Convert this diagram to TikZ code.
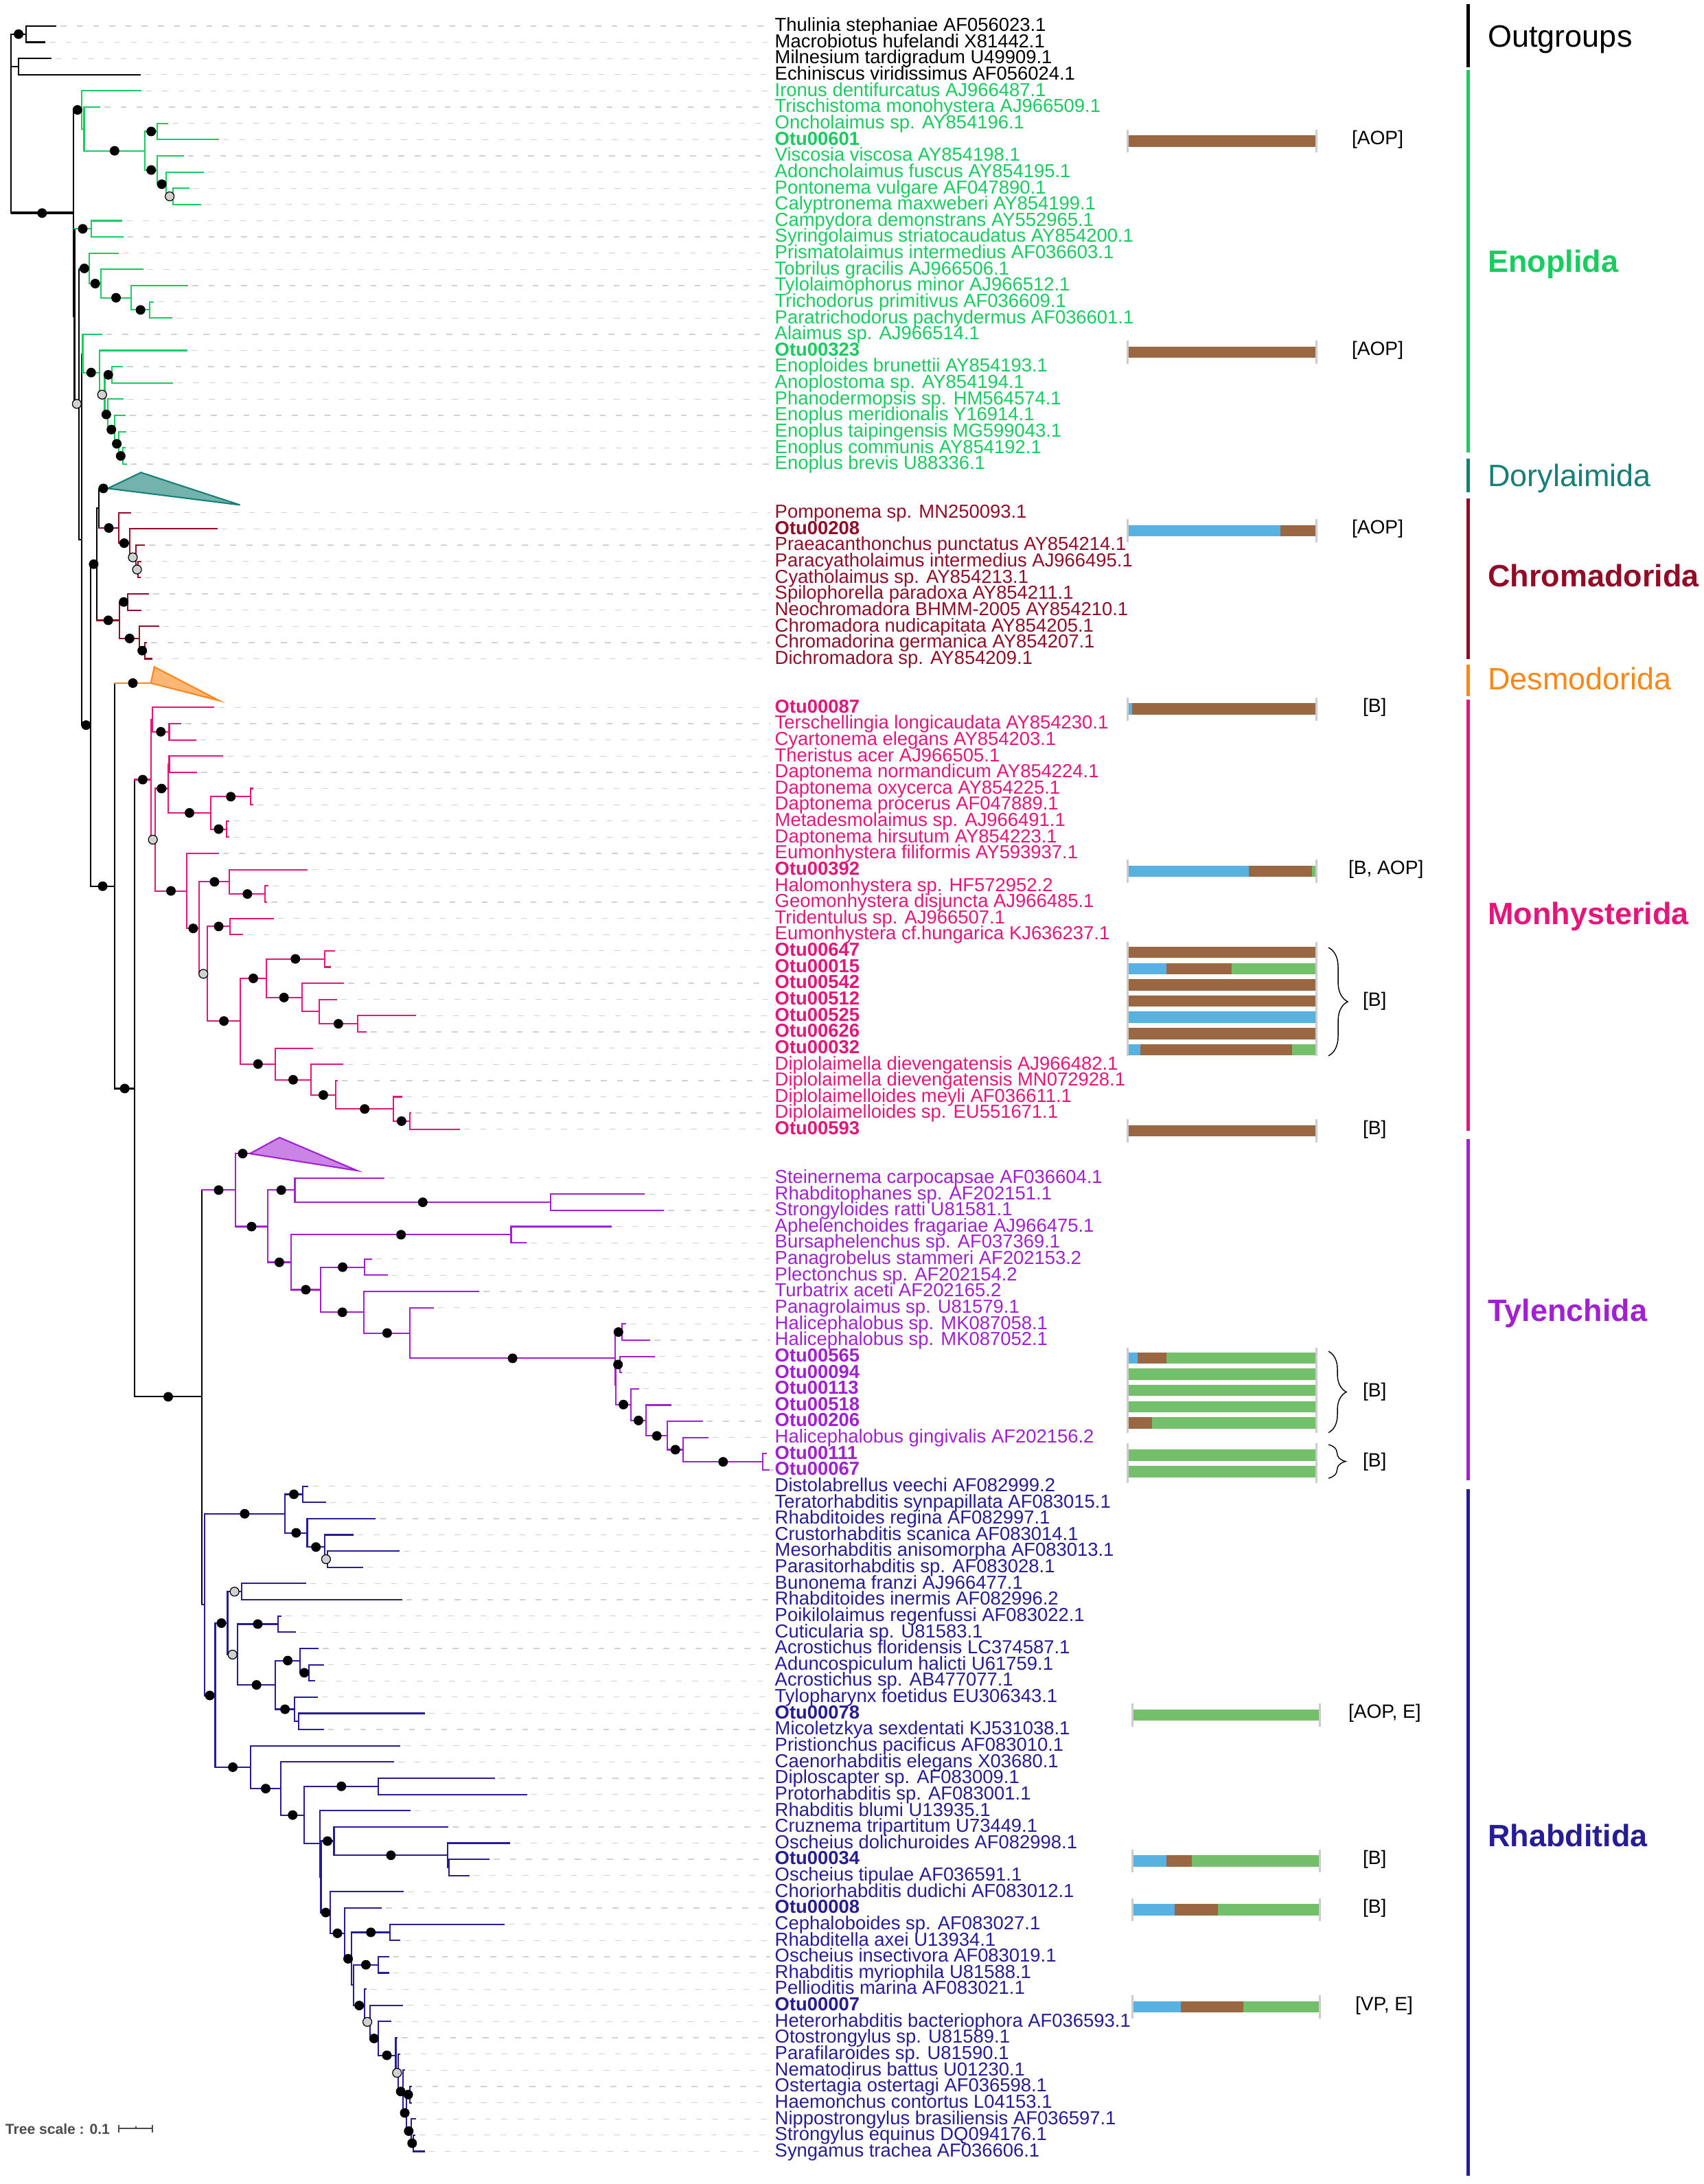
\documentclass[tikz,border=0pt]{standalone}
\usepackage{fontspec}
\setmainfont{Liberation Sans}
\usetikzlibrary{decorations.pathreplacing}

\definecolor{eno}{RGB}{24,204,96}
\definecolor{dory}{RGB}{22,128,118}
\definecolor{chro}{RGB}{145,12,38}
\definecolor{desm}{RGB}{250,135,25}
\definecolor{monh}{RGB}{228,22,122}
\definecolor{tyle}{RGB}{160,32,210}
\definecolor{rhab}{RGB}{38,28,150}
\definecolor{pbrown}{RGB}{155,102,66}
\definecolor{pblue}{RGB}{87,178,225}
\definecolor{pgreen}{RGB}{116,192,106}

\tikzset{
	treeline/.style={line width=0.6pt, line cap=rect},
	lead/.style={draw=black!18, line width=0.37pt, dash pattern=on 0.86mm off 1.5mm},
	leaf/.style={anchor=base west, inner sep=0pt, yshift=-0.78mm, font=\fontsize{7.8pt}{8.5pt}\selectfont},
	bsdot/.style={circle, fill=black, inner sep=0pt, minimum size=1.4mm},
	bsgrey/.style={circle, draw=black, fill=black!18, line width=0.35pt, inner sep=0pt, minimum size=1.3mm},
	nodot/.style={inner sep=0pt, minimum size=0pt},
	rangebar/.style={line width=0.5mm},
	ordername/.style={anchor=base west, inner sep=0pt, font=\fontsize{12.8pt}{15pt}\selectfont},
	trait/.style={anchor=west, inner sep=0pt, font=\fontsize{8pt}{9pt}\selectfont},
	barcap/.style={draw=black!20, line width=0.3mm},
	bracegroup/.style={decorate, line width=0.4pt},
}

%stem from parent, vertical of the node, support symbol half way on the stem
\newcommand{\cladelines}[2]{\foreach \pa/\nx/\ny/\ya/\yb/\spt in #1 {\draw[treeline,#2] (\pa,\ny) -- (\nx,\ny) (\nx,\ya) -- (\nx,\yb);}}
\newcommand{\cladedots}[1]{\foreach \pa/\nx/\ny/\ya/\yb/\spt in #1 {\node[\spt] at ({(\pa+\nx)/2},\ny) {};}}
%tip branch, dashed leader, label
\newcommand{\leafset}[2]{\foreach \lr/\pa/\tx/\lbl in #1 {\draw[treeline,#2] (\pa,\lr) -- (\tx,\lr); \draw[lead] (\tx+7,\lr) -- (1122,\lr); \node[leaf,text=#2] at (1128,\lr) {\lbl};}}
%row, left, right, end of blue, end of brown (green to the right end)
\newcommand{\otubar}[5]{\fill[pblue] (#2,#1-0.25) rectangle (#4,#1+0.45); \fill[pbrown] (#4,#1-0.25) rectangle (#5,#1+0.45); \fill[pgreen] (#5,#1-0.25) rectangle (#3,#1+0.45);}
\newcommand{\otucaps}[4]{\draw[barcap] (#3-2,#1) -- (#3-2,#2) (#4+2,#1) -- (#4+2,#2);}

%TREE DATA: parent x / node x / node row / first child row / last child row / support
\def\outnodes{15.9/38.2/1.5/1/2/bsdot, 15.9/26.7/3.5/3/4/nodot}
\def\backnodes{15.9/106.7/12.53/6.17/18.9/bsdot, 106.7/108.5/18.9/13.5/24.29/nodot, 108.5/115.3/24.29/15.94/32.64/bsgrey, 115.3/118.8/32.64/21.18/44.09/nodot, 118.8/131.9/44.09/34.17/54.02/bsdot, 131.9/141/34.17/30.72/37.63/bsdot, 141/144/30.72/29.5/31.94/nodot, 131.9/167.2/54.02/41.5/66.49/bsdot, 167.2/196/66.49/47.45/85.49/bsdot, 196/294/85.49/72.75/98.29/bsdot}
\def\enonodes{106.7/118.9/6.17/5/7.34/bsdot, 118.9/122.5/7.34/6/8.69/nodot, 122.5/211.2/8.69/7.5/9.875/bsdot, 211.2/229.2/7.5/7/8/bsdot, 211.2/229.2/9.875/9/10.75/bsdot, 229.2/242.1/10.75/10/11.5/bsdot, 242.1/252.2/11.5/11/12/bsgrey, 108.5/132.6/13.5/13/14/bsdot, 115.3/130.4/15.94/15/16.875/bsdot, 130.4/147/16.875/16/17.75/bsdot, 147/191/17.75/17/18.5/bsdot, 191/218.4/18.5/18/19/bsdot, 118.8/120.5/21.18/20/22.36/nodot, 120.5/145/22.36/21/23.72/bsdot, 145/152.5/23.72/22.5/24.94/bsgrey, 152.5/163/22.5/22/23/bsdot, 152.5/157.2/24.94/24/25.875/bsdot, 157.2/167.2/25.875/25/26.75/bsdot, 167.2/173/26.75/26/27.5/bsdot, 173/178.7/27.5/27/28/bsdot}
\def\dorynodes{144/157.1/29.5/29.5/29.5/bsdot}
\def\chronodes{144/173/31.94/31/32.875/bsdot, 173/188.8/32.875/32/33.75/bsdot, 188.8/198.2/33.75/33/34.5/bsgrey, 198.2/201/34.5/34/35/bsgrey, 141/174.4/37.63/36.5/38.75/bsdot, 174.4/186/36.5/36/37/bsdot, 174.4/203.2/38.75/38/39.5/bsdot, 203.2/211.2/39.5/39/40/bsdot}
\def\desmnodes{167.2/219.8/41.5/41.5/41.5/bsdot}
\def\monhnodes{196/219.8/47.45/43.75/51.15/bsdot, 219.8/222/43.75/43/44.5/nodot, 222/246.5/44.5/44/45/bsdot, 219.8/225.6/51.15/48/54.31/bsgrey, 225.6/245/48/46.5/49.5/bsdot, 245/246.5/46.5/46/47/nodot, 245/307/49.5/48.5/50.5/bsdot, 307/365.4/48.5/48/49/bsdot, 307/330/50.5/50/51/bsdot, 225.6/272.4/54.31/52/56.62/bsdot, 272.4/290.4/56.62/53.75/59.42/bsdot, 290.4/334.4/53.75/53/54.5/bsdot, 334.4/386.3/54.5/54/55/bsdot, 290.4/302/59.42/56.5/62.33/bsgrey, 302/335.1/56.5/56/57/bsdot, 302/350.2/62.33/59.7/64.98/bsdot, 350.2/387.7/59.7/58.5/60.88/bsdot, 387.7/472.8/58.5/58/59/bsdot, 387.7/439.6/60.88/60/61.75/bsdot, 439.6/464.8/61.75/61/62.5/nodot, 464.8/521/62.5/62/63/bsdot, 350.2/401.4/64.98/64/65.95/bsdot, 401.4/452.6/65.95/65/66.89/bsdot, 452.6/489.3/66.89/66/67.75/bsdot, 489.3/573/67.75/67/68.5/bsdot, 573/596.7/68.5/68/69/bsdot}
\def\tylenodes{294/343/72.75/70.5/75/bsdot, 343/364/70.5/70.5/70.5/bsdot, 343/389.9/75/72.75/77.2/bsdot, 389.9/429.5/72.75/72/73.5/bsdot, 429.5/802.1/73.5/73/74/bsdot, 389.9/423.8/77.2/75.5/78.89/bsdot, 423.8/744.5/75.5/75/76/bsdot, 423.8/467/78.89/77.5/80.28/bsdot, 467/531.1/77.5/77/78/bsdot, 467/530.4/80.28/79/81.56/bsdot, 530.4/597.4/81.56/80/83.12/bsdot, 597.4/895.8/83.12/81.5/84.74/bsdot, 895.8/905.8/81.5/81/82/bsdot, 895.8/897.3/84.74/83.5/85.97/nodot, 897.3/903/83.5/83/84/bsdot, 897.3/918.8/85.97/85/86.95/bsdot, 918.8/941.2/86.95/86/87.9/bsdot, 941.2/972.2/87.9/87/88.75/bsdot, 972.2/995.2/88.75/88/89.5/bsdot, 995.2/1111.3/89.5/89/90/bsdot}
\def\rhabnodes{294/297.6/98.29/92.7/103.9/nodot, 297.6/415.1/92.7/91.5/93.875/bsdot, 415.1/441/91.5/91/92/bsdot, 415.1/447.5/93.875/93/94.75/bsdot, 447.5/472.8/94.75/94/95.5/bsdot, 472.8/477/95.5/95/96/bsgrey, 297.6/313.5/103.9/99.44/108.32/bsdot, 313.5/331.5/99.44/97.5/101.38/bsdot, 331.5/351.7/97.5/97/98/bsgrey, 331.5/345.9/101.38/99.5/103.25/bsgrey, 345.9/405/99.5/99/100/bsdot, 345.9/401.4/103.25/101.75/104.75/bsdot, 401.4/436.7/101.75/101/102.5/bsdot, 436.7/449.7/102.5/102/103/bsdot, 401.4/428.8/104.75/104/105.5/bsdot, 428.8/435.3/105.5/105/106/nodot, 313.5/364.7/108.32/107/109.64/bsdot, 364.7/409.3/109.64/108/111.27/bsdot, 409.3/443.2/111.27/109.5/113.04/bsdot, 443.2/551.3/109.5/109/110/bsdot, 443.2/466.3/113.04/111/115.08/nodot, 466.3/467.5/115.08/112.875/117.28/nodot, 467.5/486.5/112.875/112/113.75/bsdot, 486.5/652.2/113.75/113/114.5/bsdot, 652.2/653.6/114.5/114/115/nodot, 467.5/481.4/117.28/116/118.56/bsdot, 481.4/501.6/118.56/117/120.13/bsdot, 501.6/512.4/120.13/118.5/121.75/bsdot, 512.4/567.9/118.5/118/119/bsdot, 512.4/515.3/121.75/120.5/123.01/nodot, 515.3/550.6/120.5/120/121/bsdot, 515.3/531.1/123.01/122/124.02/bsdot, 531.1/539/124.02/123/125.04/bsgrey, 539/550.6/125.04/124/126.08/bsdot, 550.6/576.5/126.08/125/127.16/bsdot, 576.5/580.1/127.16/126/128.31/bsgrey, 580.1/587.3/128.31/127/129.63/bsdot, 587.3/591.8/129.63/128.5/130.75/bsdot, 591.8/597.4/128.5/128/129/bsdot, 591.8/598.8/130.75/130/131.5/bsdot, 598.8/601.8/131.5/131/132/bsdot}

%LEAVES: row / parent x / tip x / label
\def\outleaves{1/38.2/81.4/{Thulinia stephaniae AF056023.1}, 2/38.2/64.9/{Macrobiotus hufelandi X81442.1}, 3/26.7/74.2/{Milnesium tardigradum U49909.1}, 4/26.7/204/{Echiniscus viridissimus AF056024.1}}
\def\enoleaves{5/118.9/205.4/{Ironus dentifurcatus AJ966487.1}, 6/122.5/144.9/{Trischistoma monohystera AJ966509.1}, 7/229.2/243.6/{Oncholaimus sp. AY854196.1}, 8/229.2/317.8/{\textbf{Otu00601}}, 9/229.2/266.6/{Viscosia viscosa AY854198.1}, 10/242.1/296.2/{Adoncholaimus fuscus AY854195.1}, 11/252.2/274.6/{Pontonema vulgare AF047890.1}, 12/252.2/291.9/{Calyptronema maxweberi AY854199.1}, 13/132.6/177.3/{Campydora demonstrans AY552965.1}, 14/132.6/178.7/{Syringolaimus striatocaudatus AY854200.1}, 15/130.4/172.2/{Prismatolaimus intermedius AF036603.1}, 16/147/207.5/{Tobrilus gracilis AJ966506.1}, 17/191/273.1/{Tylolaimophorus minor AJ966512.1}, 18/218.4/223.4/{Trichodorus primitivus AF036609.1}, 19/218.4/250.1/{Paratrichodorus pachydermus AF036601.1}, 20/120.5/147.7/{Alaimus sp. AJ966514.1}, 21/145/272.4/{\textbf{Otu00323}}, 22/163/178/{Enoploides brunettii AY854193.1}, 23/163/250.8/{Anoplostoma sp. AY854194.1}, 24/157.2/179.4/{Phanodermopsis sp. HM564574.1}, 25/167.2/182.3/{Enoplus meridionalis Y16914.1}, 26/173/183/{Enoplus taipingensis MG599043.1}, 27/178.7/181.6/{Enoplus communis AY854192.1}, 28/178.7/183.8/{Enoplus brevis U88336.1}}
\def\chroleaves{31/173/190.3/{Pomponema sp. MN250093.1}, 32/188.8/315.7/{\textbf{Otu00208}}, 33/198.2/210.4/{Praeacanthonchus punctatus AY854214.1}, 34/201/205/{Paracyatholaimus intermedius AJ966495.1}, 35/201/204/{Cyatholaimus sp. AY854213.1}, 36/186/216.2/{Spilophorella paradoxa AY854211.1}, 37/186/204.7/{Neochromadora BHMM-2005 AY854210.1}, 38/203.2/230.6/{Chromadora nudicapitata AY854205.1}, 39/211.2/213.3/{Chromadorina germanica AY854207.1}, 40/211.2/220.5/{Dichromadora sp. AY854209.1}}
\def\monhleaves{43/222/311.3/{\textbf{Otu00087}}, 44/246.5/263/{Terschellingia longicaudata AY854230.1}, 45/246.5/284.7/{Cyartonema elegans AY854203.1}, 46/246.5/324.3/{Theristus acer AJ966505.1}, 47/246.5/286.1/{Daptonema normandicum AY854224.1}, 48/365.4/367.5/{Daptonema oxycerca AY854225.1}, 49/365.4/368/{Daptonema procerus AF047889.1}, 50/330/333/{Metadesmolaimus sp. AJ966491.1}, 51/330/333/{Daptonema hirsutum AY854223.1}, 52/272.4/317.8/{Eumonhystera filiformis AY593937.1}, 53/334.4/446.8/{\textbf{Otu00392}}, 54/386.3/390/{Halomonhystera sp. HF572952.2}, 55/386.3/388/{Geomonhystera disjuncta AJ966485.1}, 56/335.1/397.8/{Tridentulus sp. AJ966507.1}, 57/335.1/353.1/{Eumonhystera cf.hungarica KJ636237.1}, 58/472.8/487.2/{\textbf{Otu00647}}, 59/472.8/481.4/{\textbf{Otu00015}}, 60/439.6/500.1/{\textbf{Otu00542}}, 61/464.8/490/{\textbf{Otu00512}}, 62/521/605.4/{\textbf{Otu00525}}, 63/521/533.3/{\textbf{Otu00626}}, 64/401.4/454.7/{\textbf{Otu00032}}, 65/452.6/498.7/{Diplolaimella dievengatensis AJ966482.1}, 66/489.3/490.5/{Diplolaimella dievengatensis MN072928.1}, 67/573/584.5/{Diplolaimelloides meyli AF036611.1}, 68/596.7/598.2/{Diplolaimelloides sp. EU551671.1}, 69/596.7/668.8/{\textbf{Otu00593}}}
\def\tyleleaves{72/429.5/559.2/{Steinernema carpocapsae AF036604.1}, 73/802.1/938.3/{Rhabditophanes sp. AF202151.1}, 74/802.1/966.4/{Strongyloides ratti U81581.1}, 75/744.5/890/{Aphelenchoides fragariae AJ966475.1}, 76/744.5/766/{Bursaphelenchus sp. AF037369.1}, 77/531.1/540.5/{Panagrobelus stammeri AF202153.2}, 78/531.1/563.6/{Plectonchus sp. AF202154.2}, 79/530.4/696.9/{Turbatrix aceti AF202165.2}, 80/597.4/630.6/{Panagrolaimus sp. U81579.1}, 81/905.8/911/{Halicephalobus sp. MK087058.1}, 82/905.8/946.2/{Halicephalobus sp. MK087052.1}, 83/903/953.4/{\textbf{Otu00565}}, 84/903/905/{\textbf{Otu00094}}, 85/918.8/929.7/{\textbf{Otu00113}}, 86/941.2/976.5/{\textbf{Otu00518}}, 87/972.2/1022.6/{\textbf{Otu00206}}, 88/995.2/1030.6/{Halicephalobus gingivalis AF202156.2}, 89/1111.3/1115.6/{\textbf{Otu00111}}, 90/1111.3/1120/{\textbf{Otu00067}}}
\def\rhableaves{91/441/448.3/{Distolabrellus veechi AF082999.2}, 92/441/473.5/{Teratorhabditis synpapillata AF083015.1}, 93/447.5/546.3/{Rhabditoides regina AF082997.1}, 94/472.8/513.8/{Crustorhabditis scanica AF083014.1}, 95/477/580.9/{Mesorhabditis anisomorpha AF083013.1}, 96/477/527.5/{Parasitorhabditis sp. AF083028.1}, 97/351.7/444.6/{Bunonema franzi AJ966477.1}, 98/351.7/584.5/{Rhabditoides inermis AF082996.2}, 99/405/409.3/{Poikilolaimus regenfussi AF083022.1}, 100/405/430.2/{Cuticularia sp. U81583.1}, 101/436.7/463.4/{Acrostichus floridensis LC374587.1}, 102/449.7/470.6/{Aduncospiculum halicti U61759.1}, 103/449.7/458.3/{Acrostichus sp. AB477077.1}, 104/428.8/462/{Tylopharynx foetidus EU306343.1}, 105/435.3/617.6/{\textbf{Otu00078}}, 106/435.3/470.6/{Micoletzkya sexdentati KJ531038.1}, 107/364.7/582.3/{Pristionchus pacificus AF083010.1}, 108/409.3/572.9/{Caenorhabditis elegans X03680.1}, 109/551.3/720/{Diploscapter sp. AF083009.1}, 110/551.3/766.8/{Protorhabditis sp. AF083001.1}, 111/466.3/596.7/{Rhabditis blumi U13935.1}, 112/486.5/652.2/{Cruznema tripartitum U73449.1}, 113/652.2/742.3/{Oscheius dolichuroides AF082998.1}, 114/653.6/712/{\textbf{Otu00034}}, 115/653.6/683.2/{Oscheius tipulae AF036591.1}, 116/481.4/587.3/{Choriorhabditis dudichi AF083012.1}, 117/501.6/554.9/{\textbf{Otu00008}}, 118/567.9/733.6/{Cephaloboides sp. AF083027.1}, 119/567.9/582.3/{Rhabditella axei U13934.1}, 120/550.6/565.7/{Oscheius insectivora AF083019.1}, 121/550.6/565.7/{Rhabditis myriophila U81588.1}, 122/531.1/533/{Pellioditis marina AF083021.1}, 123/539/585.9/{\textbf{Otu00007}}, 124/550.6/569.3/{Heterorhabditis bacteriophora AF036593.1}, 125/576.5/578/{Otostrongylus sp. U81589.1}, 126/580.1/582/{Parafilaroides sp. U81590.1}, 127/587.3/589/{Nematodirus battus U01230.1}, 128/597.4/599/{Ostertagia ostertagi AF036598.1}, 129/597.4/599/{Haemonchus contortus L04153.1}, 130/598.8/605.4/{Nippostrongylus brasiliensis AF036597.1}, 131/601.8/604/{Strongylus equinus DQ094176.1}, 132/601.8/617.6/{Syngamus trachea AF036606.1}}

\begin{document}
\begin{tikzpicture}[x=0.1mm,y=-2.363mm]
	\useasboundingbox (0mm,1.427mm) rectangle (248.1mm,-316.673mm);
	
	%BRANCHES
	\draw[treeline] (15.9,1.5) -- (15.9,12.53);	%root
	\cladelines{\outnodes}{black}
	\cladelines{\backnodes}{black}
	\draw[line width=1.1pt] (15.9,12.53) -- (106.7,12.53);
	\cladelines{\enonodes}{eno}
	\cladelines{\dorynodes}{dory}
	\cladelines{\chronodes}{chro}
	\cladelines{\desmnodes}{desm}
	\cladelines{\monhnodes}{monh}
	\cladelines{\tylenodes}{tyle}
	\cladelines{\rhabnodes}{rhab}
	
	%COLLAPSED CLADES
	\filldraw[draw=dory, fill=dory!60, line width=0.6pt] (157.1,29.5) -- (205.4,28.52) -- (349.5,30.52) -- cycle;
	\filldraw[draw=desm, fill=desm!60, line width=0.6pt] (219.8,41.5) -- (224.8,40.5) -- (319.3,42.58) -- cycle;
	\filldraw[draw=tyle, fill=tyle!55, line width=0.6pt] (364,70.5) -- (407.2,69.51) -- (520.3,71.55) -- cycle;
	
	%LEAVES
	\leafset{\outleaves}{black}
	\leafset{\enoleaves}{eno}
	\leafset{\chroleaves}{chro}
	\leafset{\monhleaves}{monh}
	\leafset{\tyleleaves}{tyle}
	\leafset{\rhableaves}{rhab}
	
	%SUPPORT
	\cladedots{\outnodes}
	\cladedots{\backnodes}
	\cladedots{\enonodes}
	\cladedots{\dorynodes}
	\cladedots{\chronodes}
	\cladedots{\desmnodes}
	\cladedots{\monhnodes}
	\cladedots{\tylenodes}
	\cladedots{\rhabnodes}
	
	%OTU BARS
	\otubar{8}{1644}{1915.7}{1644}{1915.7}		\otucaps{7.39}{8.81}{1644}{1915.7}
	\otubar{21}{1644}{1915.7}{1644}{1915.7}		\otucaps{20.39}{21.81}{1644}{1915.7}
	\otubar{32}{1644}{1915.7}{1865.3}{1915.7}	\otucaps{31.39}{32.81}{1644}{1915.7}
	\otubar{43}{1644}{1915.7}{1649}{1915.7}		\otucaps{42.39}{43.81}{1644}{1915.7}
	\otubar{53}{1644}{1915.7}{1819.3}{1911}		\otucaps{52.39}{53.81}{1644}{1915.7}
	\otubar{58}{1644}{1915.7}{1644}{1915.7}
	\otubar{59}{1644}{1915.7}{1698.7}{1794.3}
	\otubar{60}{1644}{1915.7}{1644}{1915.7}
	\otubar{61}{1644}{1915.7}{1644}{1915.7}
	\otubar{62}{1644}{1915.7}{1915.7}{1915.7}
	\otubar{63}{1644}{1915.7}{1644}{1915.7}
	\otubar{64}{1644}{1915.7}{1661}{1882}		\otucaps{57.44}{64.47}{1644}{1915.7}
	\otubar{69}{1644}{1915.7}{1644}{1915.7}		\otucaps{68.39}{69.81}{1644}{1915.7}
	\otubar{83}{1644}{1915.7}{1656.7}{1698.7}
	\otubar{84}{1644}{1915.7}{1644}{1644}
	\otubar{85}{1644}{1915.7}{1644}{1644}
	\otubar{86}{1644}{1915.7}{1644}{1644}
	\otubar{87}{1644}{1915.7}{1644}{1677.7}		\otucaps{82.48}{87.7}{1644}{1915.7}
	\otubar{89}{1644}{1915.7}{1644}{1644}
	\otubar{90}{1644}{1915.7}{1644}{1644}		\otucaps{88.34}{90.8}{1644}{1915.7}
	\otubar{105}{1649}{1924}{1649}{1649}		\otucaps{104.39}{105.81}{1651}{1920}
	\otubar{114}{1649}{1924}{1698.7}{1736}		\otucaps{113.39}{114.81}{1651}{1920}
	\otubar{117}{1649}{1924}{1711.3}{1773.7}	\otucaps{116.39}{117.81}{1651}{1920}
	\otubar{123}{1649}{1924}{1719.7}{1811}		\otucaps{122.39}{123.81}{1651}{1920}
	%
	\draw[bracegroup, decoration={brace,amplitude=2.8mm}] (1935,57.8) -- (1935,64.47);
	\draw[bracegroup, decoration={brace,amplitude=2.6mm}] (1935,82.69) -- (1935,87.7);
	\draw[bracegroup, decoration={brace,amplitude=2.5mm}] (1935,88.44) -- (1935,90.51);
	%
	\node[trait] at (1968.3,8) {[AOP]};
	\node[trait] at (1968.3,21) {[AOP]};
	\node[trait] at (1968.3,32) {[AOP]};
	\node[trait] at (1984.3,43) {[B]};
	\node[trait] at (1963.3,53) {[B, AOP]};
	\node[trait] at (1984.3,61.1) {[B]};
	\node[trait] at (1984.3,69) {[B]};
	\node[trait] at (1984.3,85.2) {[B]};
	\node[trait] at (1984.3,89.5) {[B]};
	\node[trait] at (1963.3,105) {[AOP, E]};
	\node[trait] at (1984.3,114) {[B]};
	\node[trait] at (1984.3,117) {[B]};
	\node[trait] at (1973.3,123) {[VP, E]};
	
	%ORDERS (pixel rows)
	\begin{scope}[y=-0.1mm, shift={(0mm,1.427mm)}]
		\draw[rangebar,black] (2138.3,5.6) -- (2138.3,98.2);	\node[ordername] at (2166.7,68.7) {Outgroups};
		\draw[rangebar,eno] (2138.3,101.7) -- (2138.3,659.4);	\node[ordername,text=eno] at (2166.7,396) {\bfseries Enoplida};
		\draw[rangebar,dory] (2138.3,667.8) -- (2138.3,717);	\node[ordername,text=dory] at (2166.7,708.5) {Dorylaimida};
		\draw[rangebar,chro] (2138.3,726) -- (2138.3,959.7);	\node[ordername,text=chro] at (2166.7,854) {\bfseries Chromadorida};
		\draw[rangebar,desm] (2138.3,968) -- (2138.3,1013.7);	\node[ordername,text=desm] at (2166.7,1004.6) {Desmodorida};
		\draw[rangebar,monh] (2138.3,1018.6) -- (2138.3,1647);	\node[ordername,text=monh] at (2166.7,1346) {\bfseries Monhysterida};
		\draw[rangebar,tyle] (2138.3,1659) -- (2138.3,2156);	\node[ordername,text=tyle] at (2166.7,1924) {\bfseries Tylenchida};
		\draw[rangebar,rhab] (2138.3,2169) -- (2138.3,3169);	\node[ordername,text=rhab] at (2166.7,2689) {\bfseries Rhabditida};
		%
		%TREE SCALE
		\node[anchor=base west, inner sep=0pt, text=black!70, font=\bfseries\fontsize{6pt}{7pt}\selectfont] at (7.2,3108) {Tree scale : 0.1};
		\draw[black!70, line width=0.2mm] (173,3100) -- (222,3100) (173,3095) -- (173,3105.7) (222,3095) -- (222,3105.7) (197.5,3096.7) -- (197.5,3100);
	\end{scope}
\end{tikzpicture}
\end{document}
